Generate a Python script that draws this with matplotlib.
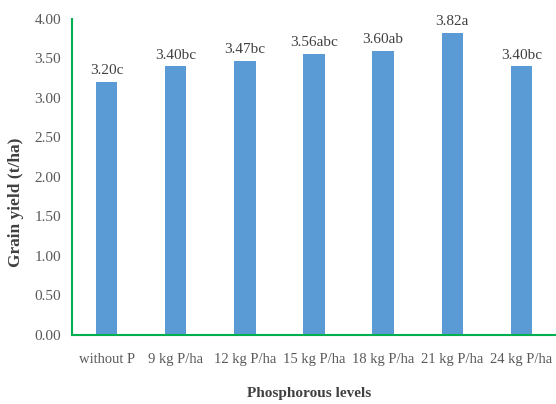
import numpy as np
import matplotlib.pyplot as plt

# Data
levels = ['without P', '9 kg P/ha', '12 kg P/ha', '15 kg P/ha', '18 kg P/ha', '21 kg P/ha', '24 kg P/ha']
grain_yield = [3.20, 3.40, 3.47, 3.56, 3.60, 3.82, 3.40]
letters = ['c', 'bc', 'bc', 'abc', 'ab', 'a', 'bc']

plt.rcParams['font.family'] = ['Liberation Serif', 'DejaVu Serif']

fig = plt.figure(figsize=(5.56, 4.04), dpi=100)
ax = fig.add_axes([0.1295, 0.171, 0.8705, 0.782])

x = np.arange(len(levels))
bars = ax.bar(x, grain_yield, width=0.31, color='#5B9BD5', zorder=2)

# Value labels with significance letters
for xi, v, let in zip(x, grain_yield, letters):
    ax.text(xi, v + 0.06, f'{v:.2f}{let}', ha='center', va='bottom',
            fontsize=11, color='#404040')

ax.set_xlim(-0.5, len(levels) - 0.5)
ax.set_ylim(0, 4.0)
yt = np.arange(0, 4.01, 0.5)
ax.set_yticks(yt)
ax.set_yticklabels([f'{t:.2f}' for t in yt])
ax.set_xticks(x)
ax.set_xticklabels(levels)
ax.tick_params(axis='both', length=0, labelsize=11, labelcolor='#595959')
ax.tick_params(axis='x', pad=13, labelsize=10.5)
ax.tick_params(axis='y', pad=8)

for side in ['top', 'right']:
    ax.spines[side].set_visible(False)
for side in ['left', 'bottom']:
    ax.spines[side].set_color('#00B050')
    ax.spines[side].set_linewidth(1.5)

ax.set_xlabel('Phosphorous levels', fontsize=11, fontweight='bold', color='#404040', va='baseline')
ax.xaxis.set_label_coords(0.49, -0.196)
ax.set_ylabel('Grain yield (t/ha)', fontsize=12.5, fontweight='bold', color='#404040')
ax.yaxis.set_label_coords(-0.099, 0.42)

fig.savefig('out.png', dpi=100)
